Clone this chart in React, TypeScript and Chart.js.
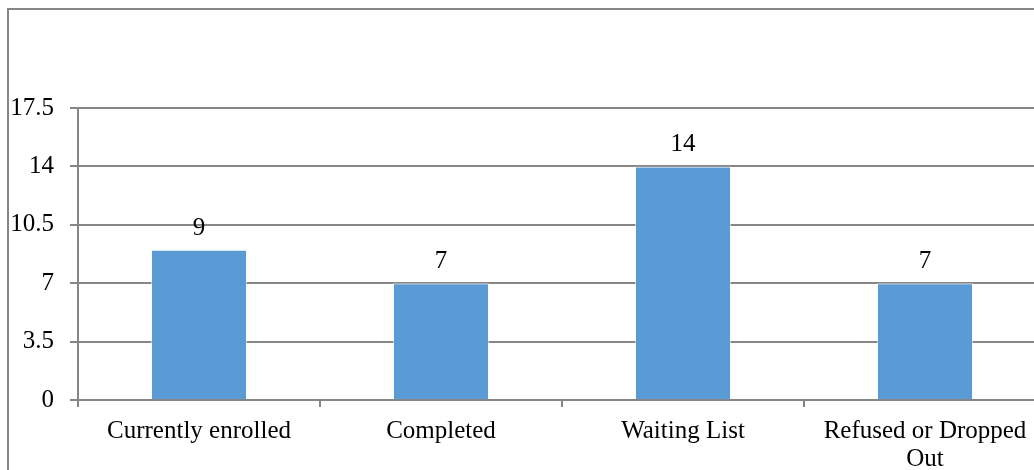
import React, { useEffect, useRef } from "react";
import { Chart, registerables } from "chart.js";

Chart.register(...registerables);

const categories: (string | string[])[] = [
  "Currently enrolled",
  "Completed",
  "Waiting List",
  ["Refused or Dropped", "Out"],
];
const counts: number[] = [9, 7, 14, 7];
const yTicks: number[] = [0, 3.5, 7, 10.5, 14, 17.5];

const FONT_FAMILY = "'Liberation Serif', 'Times New Roman', serif";
const GRID = "#868686";
const BAR = "#5B9BD5";

const valueLabels = {
  id: "valueLabels",
  afterDatasetsDraw(chart: any) {
    const { ctx } = chart;
    const meta = chart.getDatasetMeta(0);
    ctx.save();
    ctx.fillStyle = "#000";
    ctx.font = `25px ${FONT_FAMILY}`;
    ctx.textAlign = "center";
    ctx.textBaseline = "alphabetic";
    meta.data.forEach((bar: any, i: number) => {
      ctx.fillText(String(counts[i]), bar.x, bar.y - 15);
    });
    ctx.restore();
  },
};

export default function App() {
  const canvasRef = useRef<HTMLCanvasElement | null>(null);

  useEffect(() => {
    if (!canvasRef.current) return;
    const chart = new Chart(canvasRef.current, {
      type: "bar",
      data: {
        labels: categories,
        datasets: [
          {
            data: counts,
            backgroundColor: BAR,
            borderColor: "rgba(255,255,255,0.6)",
            borderWidth: 1,
            categoryPercentage: 1,
            barPercentage: 0.397,
          },
        ],
      },
      options: {
        responsive: false,
        animation: false,
        devicePixelRatio: 1,
        layout: { padding: { left: 0, top: 108, right: 4, bottom: 0 } },
        plugins: {
          legend: { display: false },
          tooltip: { enabled: false },
        },
        scales: {
          x: {
            offset: true,
            grid: {
              offset: true,
              drawOnChartArea: false,
              drawTicks: true,
              tickLength: 7,
              color: GRID,
              lineWidth: 2,
            },
            border: { color: GRID, width: 2 },
            ticks: {
              color: "#000",
              padding: 11,
              maxRotation: 0,
              autoSkip: false,
              font: { family: FONT_FAMILY, size: 25, lineHeight: 1.1 },
            },
            afterFit: (s: any) => {
              s.height = 70;
            },
          },
          y: {
            min: 0,
            max: 17.5,
            afterBuildTicks: (s: any) => {
              s.ticks = yTicks.map((v) => ({ value: v }));
            },
            grid: {
              color: GRID,
              lineWidth: 2,
              tickLength: 8,
              drawTicks: true,
            },
            border: { color: GRID, width: 2 },
            ticks: {
              color: "#000",
              padding: 16,
              font: { family: FONT_FAMILY, size: 25 },
              callback: (v: any) => String(v),
            },
            afterFit: (s: any) => {
              s.width = 78;
            },
          },
        },
      },
      plugins: [valueLabels],
    });
    return () => chart.destroy();
  }, []);

  return (
    <div
      style={{
        position: "fixed",
        left: 0,
        top: 0,
        width: 1034,
        height: 470,
        overflow: "hidden",
        background: "#fff",
      }}
    >
      <canvas
        ref={canvasRef}
        width={1050}
        height={470}
        style={{ position: "absolute", left: 0, top: 0, width: 1050, height: 470 }}
      />
      <div
        style={{
          position: "absolute",
          left: 7,
          top: 8,
          width: 1100,
          height: 600,
          border: `2px solid ${GRID}`,
          pointerEvents: "none",
        }}
      />
    </div>
  );
}
